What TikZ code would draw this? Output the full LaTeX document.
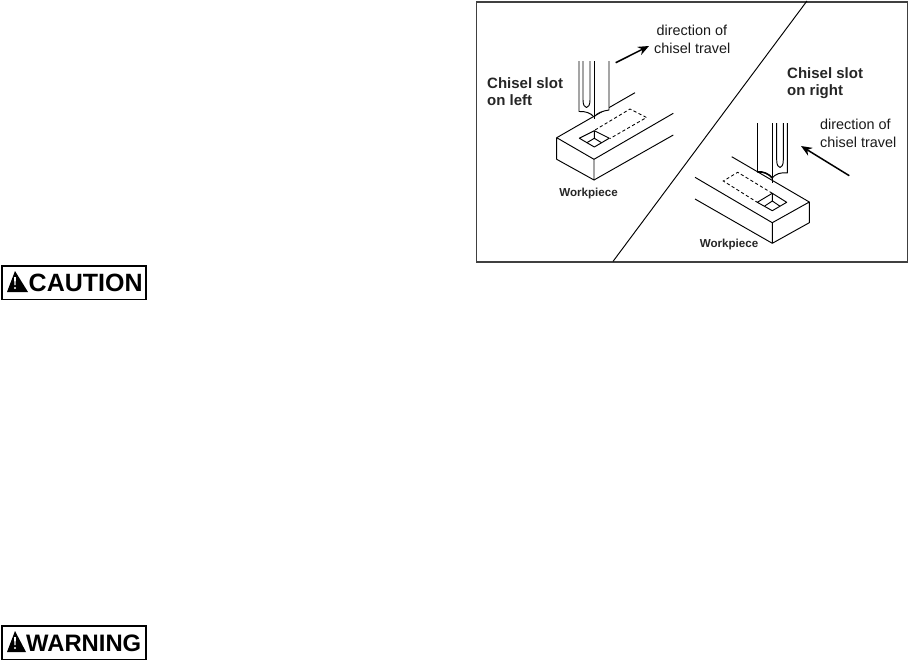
\documentclass[tikz,border=0pt]{standalone}
\usepackage{fontspec}
\setmainfont{Liberation Sans}
\usetikzlibrary{arrows.meta}
\begin{document}
\begin{tikzpicture}[
    x=1pt, y=-1pt,
    edge/.style={line width=0.95pt, line join=round},
    slotline/.style={line width=0.85pt, dash pattern=on 3.2pt off 2.4pt},
    travel/.style={-{Stealth[length=11pt,width=9pt]}, line width=1.5pt},
    frame/.style={draw=black!75, line width=1.7pt},
    title/.style={font=\bfseries\fontsize{15}{17}\selectfont, align=left, anchor=north west, inner sep=0pt, text=black!85},
    note/.style={font=\fontsize{14.4}{17.6}\selectfont, align=left, anchor=north west, inner sep=0pt, text=black!90},
    piece/.style={font=\bfseries\fontsize{11.6}{13}\selectfont, inner sep=0pt, text=black!85},
    signbox/.style={draw=black, line width=1.5pt, minimum width=144pt, minimum height=33.5pt, inner sep=0pt},
    signtext/.style={font=\bfseries\fontsize{25}{25}\selectfont, anchor=base west, inner sep=0pt}
]
\useasboundingbox (0,0) rectangle (908,662);

% Frame
\node[frame, minimum width=431pt, minimum height=260.5pt, inner sep=0pt, anchor=north west] (panel) at (475.5,0.9) {};
\coordinate (divtop) at (807,0.9);
\coordinate (divbot) at (613,261.4);
\draw[edge] (divtop) -- (divbot);

% Left workpiece
\draw[edge] (556.7,137.7) -- (594,159.3) -- (594,180) -- (556.7,159.3) -- cycle;
\draw[edge] (556.7,137.7) -- (635,92.7);
\draw[edge] (594,159.3) -- (673.3,113.3);
\draw[edge] (594,180) -- (673.3,135);
\draw[edge] (579.3,138.2) -- (594.3,130.7) -- (609.3,138.2) -- (594.3,147) -- cycle;
\draw[edge] (594.3,130.7) -- (594.3,138.3) (586.7,142.8) -- (594.3,138.3) -- (601.7,142.8);
\draw[slotline] (595,130) -- (630,109) -- (646.5,117.5) -- (610,138.5);

% Left chisel
\fill[white] (579,61) -- (609,61) -- (609,110) .. controls (602,111) and (597,113) .. (594,117) .. controls (591,113) and (585,111) .. (579,111.5) -- cycle;
\draw[edge] (579,61) -- (579,111.5) .. controls (585,111) and (591,113) .. (594,117);
\draw[edge] (609,61) -- (609,110) .. controls (602,111) and (597,113) .. (594,117);
\draw[edge] (594,61) -- (594,119);
\draw[edge] (583,61) -- (583,100) .. controls (583,110) and (590,110) .. (590,100) -- (590,61);

% Left labels
\node[title] (slotleft) at (487,77.5) {Chisel slot\\on left};
\node[note] (travelleft) at (654,25) {\hspace{2.5pt}direction of\\chisel travel};
\node[piece] (pieceleft) at (588.5,193) {Workpiece};
\coordinate (arrowleft) at (615.7,62.7);
\draw[travel] (arrowleft) -- (649,46);

% Right workpiece
\draw[edge] (809.3,202) -- (772.3,222.7) -- (772.3,243.3) -- (809.3,222.7) -- cycle;
\draw[edge] (809.3,202) -- (731.7,156.7);
\draw[edge] (772.3,222.7) -- (695,177.3);
\draw[edge] (772.3,243.3) -- (695,199);
\draw[edge] (757.3,202.3) -- (772.3,193.3) -- (786.7,202.3) -- (772.3,210.7) -- cycle;
\draw[edge] (772.3,193.3) -- (772.3,201) (764.7,206) -- (772.3,201) -- (779.7,206);
\draw[slotline] (772.3,193.3) -- (737.7,172.3) -- (723.3,181) -- (757.3,202.3);

% Right chisel
\fill[white] (757.3,123) -- (787.3,123) -- (787.3,173) .. controls (781,172) and (775,174) .. (772.3,178) .. controls (769,174) and (763,171) .. (757.3,172) -- cycle;
\draw[edge] (757.3,123) -- (757.3,172);
\draw[line width=1.6pt] (757.3,172) .. controls (763,171) and (769,174) .. (772.3,178);
\draw[edge] (787.3,123) -- (787.3,173) .. controls (781,172) and (775,174) .. (772.3,178);
\draw[edge] (772.3,123) -- (772.3,183);
\draw[edge] (776.7,123) -- (776.7,160) .. controls (776.7,170) and (783.3,170) .. (783.3,160) -- (783.3,123);

% Right labels
\node[title] (slotright) at (787,67.5) {Chisel slot\\on right};
\node[note] (travelright) at (820,119) {direction of\\chisel travel};
\node[piece] (pieceright) at (729,244) {Workpiece};
\coordinate (arrowright) at (849.3,175.7);
\draw[travel] (arrowright) -- (801,146);

% Caution sign
\node[signbox, anchor=north west] (caution) at (1,265) {};
\fill (15,271) -- (28,292) -- (7,292) -- cycle;
\fill[white] (14,277) -- (16,277) -- (15.5,285) -- (14.5,285) -- cycle;
\fill[white] (15,288) circle (1.2);
\node[signtext] (cautiontext) at (28.5,291) {CAUTION};

% Warning sign
\node[signbox, anchor=north west] (warning) at (1,625) {};
\fill (15,631) -- (26,652) -- (7,652) -- cycle;
\fill[white] (14,637) -- (16,637) -- (15.5,645) -- (14.5,645) -- cycle;
\fill[white] (15,648) circle (1.2);
\node[signtext, font=\bfseries\fontsize{23.8}{25}\selectfont] (warningtext) at (26,651) {WARNING};
\end{tikzpicture}
\end{document}
